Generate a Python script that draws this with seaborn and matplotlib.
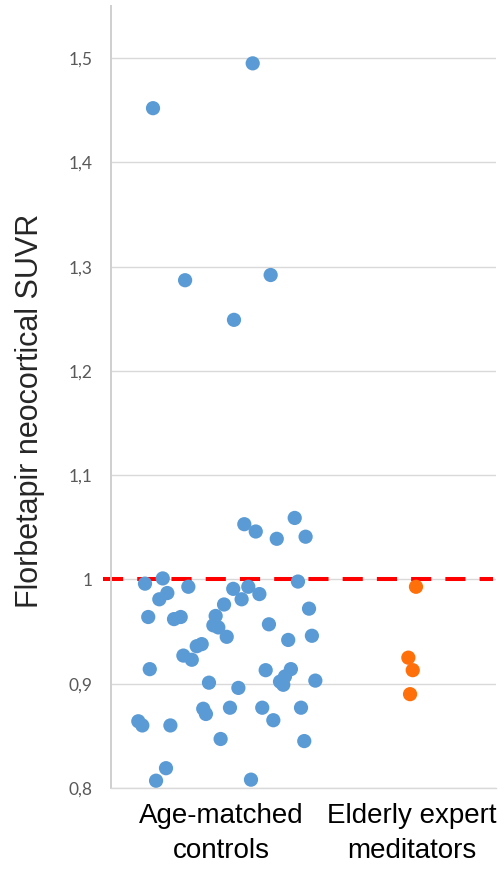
# Basics
import numpy as np
import pandas as pd
import matplotlib
matplotlib.use('Agg')

# Visualization
import matplotlib.pyplot as plt
import seaborn as sns

# Data
groups = ['Age-matched\ncontrols', 'Elderly expert\nmeditators']

controls_suvr = [1.452, 1.495, 1.287, 1.292, 1.249,
                 1.053, 1.046, 1.039, 1.059, 1.041,
                 0.996, 1.001, 0.987, 0.981, 0.993,
                 0.964, 0.962, 0.964, 0.991, 0.993,
                 0.986, 0.981, 0.976, 0.965, 0.956,
                 0.954, 0.945, 0.998, 0.972, 0.957,
                 0.942, 0.946, 0.936, 0.938, 0.927,
                 0.923, 0.914, 0.913, 0.914, 0.907,
                 0.902, 0.899, 0.903, 0.901, 0.896,
                 0.876, 0.871, 0.877, 0.877, 0.865,
                 0.877, 0.864, 0.860, 0.860, 0.847,
                 0.845, 0.819, 0.807, 0.808]
controls_jitter = [-0.356, 0.166, -0.188, 0.260, 0.068,
                   0.122, 0.182, 0.292, 0.386, 0.443,
                   -0.398, -0.305, -0.281, -0.323, -0.171,
                   -0.381, -0.246, -0.211, 0.064, 0.143,
                   0.201, 0.108, 0.016, -0.028, -0.040,
                   -0.014, 0.030, 0.403, 0.461, 0.251,
                   0.352, 0.476, -0.127, -0.101, -0.197,
                   -0.153, -0.373, 0.234, 0.366, 0.335,
                   0.309, 0.326, 0.494, -0.063, 0.091,
                   -0.093, -0.079, 0.047, 0.216, 0.274,
                   0.419, -0.433, -0.412, -0.265, -0.002,
                   0.436, -0.288, -0.340, 0.157]

meditators_suvr = [0.993, 0.925, 0.913, 0.890]
meditators_jitter = [0.021, -0.019, 0.004, -0.010]

yticks = [0.8, 0.9, 1.0, 1.1, 1.2, 1.3, 1.4, 1.5]
threshold = 1.0
colors = ['#5B9BD5', '#FF700A']

# Build the long table
df = pd.DataFrame({
    'group': [groups[0]] * len(controls_suvr) + [groups[1]] * len(meditators_suvr),
    'suvr': controls_suvr + meditators_suvr,
    'x': [0 + j for j in controls_jitter] + [1 + j for j in meditators_jitter],
})

# Style
sns.set_style('white')
plt.rcParams['font.family'] = ['Liberation Sans', 'DejaVu Sans']

# Figure with axes placed like the reference
fig = plt.figure(figsize=(5.04, 8.72), dpi=100)
ax = fig.add_axes([111 / 504, 1 - 788 / 872, 385 / 504, 782 / 872])

# Points
sns.scatterplot(data=df, x='x', y='suvr', hue='group', palette=colors,
                s=105, edgecolor='none', linewidth=0, legend=False,
                ax=ax, zorder=3)

# Threshold line
ax.axhline(threshold, xmin=-8 / 385, xmax=1 - 3 / 385, color='#FF0000',
           lw=2.9, dashes=(5, 3.5), dash_capstyle='butt', clip_on=False, zorder=2)

# Axes limits and grid
ax.set_xlim(-0.576, 1.440)
ax.set_ylim(0.8, 1.55)
ax.yaxis.grid(True, color='#d9d9d9', lw=1)
ax.set_axisbelow(True)

for side in ['top', 'right']:
    ax.spines[side].set_visible(False)
ax.spines['left'].set_color('#cfcfcf')
ax.spines['left'].set_linewidth(1.4)
ax.spines['bottom'].set_color('#d9d9d9')
ax.spines['bottom'].set_linewidth(1)

# Ticks
ax.set_yticks(yticks)
ax.set_yticklabels([f'{v:g}'.replace('.', ',') for v in yticks],
                   fontfamily='Lato', fontsize=12.5, color='#595959')
ax.tick_params(axis='y', length=0, pad=13)

ax.set_xticks([0, 1])
ax.set_xticklabels(groups, fontsize=20, color='#000000', linespacing=1.45)
ax.tick_params(axis='x', length=0, pad=11)

# Labels
ax.set_xlabel('')
ax.set_ylabel('Florbetapir neocortical SUVR', fontsize=22)
ax.yaxis.set_label_coords(-0.171, 0.482)

fig.savefig('out.png', dpi=100)
